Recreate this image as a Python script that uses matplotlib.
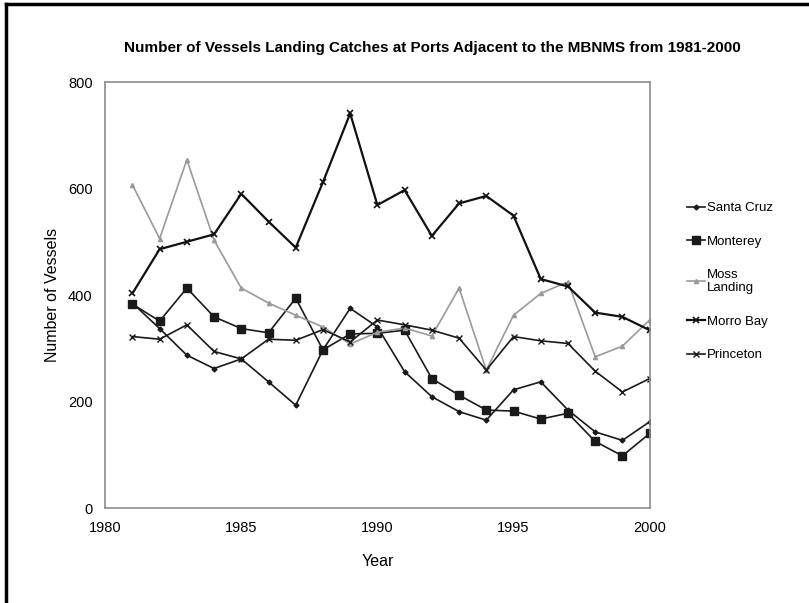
import matplotlib
matplotlib.use("Agg")
import matplotlib.pyplot as plt
from matplotlib.lines import Line2D

plt.rcParams['font.family'] = ['Liberation Sans', 'DejaVu Sans']

years = list(range(1981, 2001))

santa_cruz = [385, 337, 287, 262, 280, 237, 193, 297, 375, 340,
              256, 209, 181, 165, 222, 237, 184, 143, 127, 162]
monterey = [383, 351, 413, 359, 337, 329, 394, 297, 327, 328,
            334, 243, 212, 184, 182, 167, 178, 125, 98, 140]
moss_landing = [607, 506, 654, 503, 413, 385, 362, 340, 308, 330,
                338, 323, 413, 259, 362, 403, 425, 284, 304, 353]
morro_bay = [403, 486, 500, 514, 590, 538, 489, 612, 741, 569,
             597, 511, 572, 586, 549, 430, 416, 367, 359, 334]
princeton = [322, 317, 344, 294, 280, 317, 315, 335, 312, 353,
             344, 334, 319, 259, 322, 314, 309, 257, 218, 243]

fig = plt.figure(figsize=(8.09, 6.03), dpi=100)
ax = fig.add_axes([0.130, 0.1575, 0.673, 0.7065])

ax.plot(years, santa_cruz, color='#1a1a1a', lw=1.2, marker='D', ms=2.5,
        label='Santa Cruz')
ax.plot(years, monterey, color='#1a1a1a', lw=1.2, marker='s', ms=6,
        label='Monterey')
ax.plot(years, moss_landing, color='#9a9a9a', lw=1.2, marker='^', ms=3,
        label='Moss\nLanding')
ax.plot(years, morro_bay, color='#111111', lw=1.6, marker='x', ms=4,
        mew=1.2, label='Morro Bay')
ax.plot(years, princeton, color='#1a1a1a', lw=1.2, marker='x', ms=4,
        mew=1.0, label='Princeton')

ax.set_xlim(1980, 2000)
ax.set_ylim(0, 800)
ax.set_xticks([1980, 1985, 1990, 1995, 2000])
ax.set_yticks([0, 200, 400, 600, 800])
ax.tick_params(length=0, labelsize=10.5, pad=9)
for s in ax.spines.values():
    s.set_color('#8c8c8c')
    s.set_linewidth(1.2)

ax.set_xlabel('Year', fontsize=11.5, labelpad=14)
ax.set_ylabel('Number of Vessels', fontsize=11.5, labelpad=6)
fig.text(0.535, 0.921, 'Number of Vessels Landing Catches at Ports Adjacent to the MBNMS from 1981-2000',
         ha='center', va='center', fontsize=11, fontweight='bold')

ax.legend(loc='upper left', bbox_to_anchor=(0.849, 0.665),
          bbox_transform=fig.transFigure, frameon=False, fontsize=9.5,
          handlelength=1.4, handletextpad=0.1, labelspacing=1.6,
          borderaxespad=0, borderpad=0)

# outer frame (left and top edges)
fig.add_artist(Line2D([0.008, 0.008], [0, 0.993], transform=fig.transFigure,
                      color='black', lw=2.5))
fig.add_artist(Line2D([0.008, 1.0], [0.993, 0.993], transform=fig.transFigure,
                      color='black', lw=2.5))

fig.savefig('out.png', dpi=100)
